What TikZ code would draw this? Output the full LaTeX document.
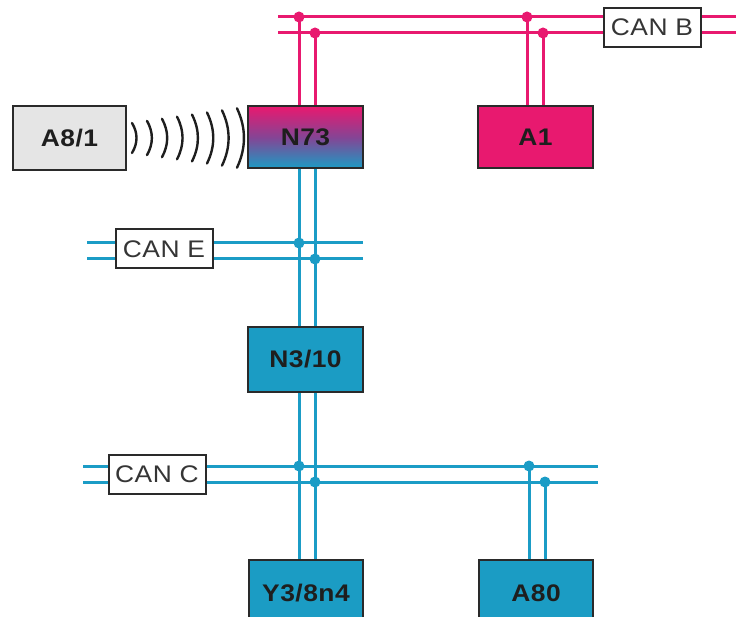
\documentclass[tikz,border=0pt]{standalone}
\usepackage{fontspec}
\setmainfont{Liberation Sans}
\newfontfamily\lblfont[FakeStretch=1.1,LetterSpace=2]{Liberation Sans}
\definecolor{canpink}{HTML}{E8196F}
\definecolor{canblue}{HTML}{1B9CC6}
\definecolor{boxblue}{HTML}{1B9CC4}
\definecolor{midpurple}{HTML}{844595}
\definecolor{edgegray}{HTML}{2A2A2A}
\definecolor{lightbox}{HTML}{E5E5E5}
\definecolor{txtdark}{HTML}{1E1E1E}
\tikzset{
  ecu/.style={draw=edgegray, line width=2pt, minimum width=115pt, minimum height=62pt,
    inner sep=0pt, outer sep=0pt, font=\fontsize{24}{28}\selectfont\lblfont\bfseries, text=txtdark},
  canlabel/.style={draw=edgegray, fill=white, line width=2pt, minimum width=97pt,
    minimum height=39pt, inner sep=0pt, font=\fontsize{24}{28}\selectfont\lblfont, text=txtdark!90},
  pinkbus/.style={draw=canpink, line width=3pt},
  bluebus/.style={draw=canblue, line width=3pt},
  pinkdot/.style={circle, fill=canpink, minimum size=11pt, inner sep=0pt},
  bluedot/.style={circle, fill=canblue, minimum size=11pt, inner sep=0pt},
  wave/.style={draw=txtdark, line width=2.4pt, line cap=round}
}
\begin{document}
\begin{tikzpicture}[x=1pt,y=-1pt]
\useasboundingbox (0,0) rectangle (736,617);
\clip (0,0) rectangle (736,617);
% bus end points and junctions
\coordinate (bBl1) at (278,17); \coordinate (bBr1) at (740,17);
\coordinate (bBl2) at (278,33); \coordinate (bBr2) at (740,33);
\coordinate (bEl1) at (87,243); \coordinate (bEr1) at (363,243);
\coordinate (bEl2) at (87,259); \coordinate (bEr2) at (363,259);
\coordinate (bCl1) at (83,466); \coordinate (bCr1) at (598,466);
\coordinate (bCl2) at (83,482); \coordinate (bCr2) at (598,482);
\coordinate (jB1) at (299,17); \coordinate (jB2) at (315,33);
\coordinate (jB3) at (527,17); \coordinate (jB4) at (543,33);
\coordinate (jE1) at (299,243); \coordinate (jE2) at (315,259);
\coordinate (jC1) at (299,466); \coordinate (jC2) at (315,482);
\coordinate (jC3) at (529,466); \coordinate (jC4) at (545,482);
% boxes (positions only, drawn later on top)
\node[ecu, top color=canpink, bottom color=boxblue, middle color=midpurple] (N73) at (305.5,137.5) {N73};
\node[ecu, fill=canpink] (A1) at (535.5,137.5) {A1};
\node[ecu, fill=lightbox, minimum width=113pt, minimum height=64pt] (A81) at (69.5,138) {A8/1};
\node[ecu, fill=boxblue, minimum height=65pt] (N310) at (305.5,359.5) {N3/10};
\node[ecu, fill=boxblue, minimum width=114pt, minimum height=66pt] (Y38) at (306,593) {Y3/8n4};
\node[ecu, fill=boxblue, minimum width=114pt, minimum height=66pt] (A80) at (536,593) {A80};
% buses
\draw[pinkbus] (bBl1) -- (bBr1);
\draw[pinkbus] (bBl2) -- (bBr2);
\draw[bluebus] (bEl1) -- (bEr1);
\draw[bluebus] (bEl2) -- (bEr2);
\draw[bluebus] (bCl1) -- (bCr1);
\draw[bluebus] (bCl2) -- (bCr2);
% stubs
\draw[pinkbus] (jB1) -- (jB1 |- N73.north);
\draw[pinkbus] (jB2) -- (jB2 |- N73.north);
\draw[pinkbus] (jB3) -- (jB3 |- A1.north);
\draw[pinkbus] (jB4) -- (jB4 |- A1.north);
\draw[bluebus] (jE1 |- N73.south) -- (jE1 |- N310.north);
\draw[bluebus] (jE2 |- N73.south) -- (jE2 |- N310.north);
\draw[bluebus] (jC1 |- N310.south) -- (jC1 |- Y38.north);
\draw[bluebus] (jC2 |- N310.south) -- (jC2 |- Y38.north);
\draw[bluebus] (jC3) -- (jC3 |- A80.north);
\draw[bluebus] (jC4) -- (jC4 |- A80.north);
% dots
\foreach \j in {jB1,jB2,jB3,jB4} \node[pinkdot] at (\j) {};
\foreach \j in {jE1,jE2,jC1,jC2,jC3,jC4} \node[bluedot] at (\j) {};
% bus labels
\node[canlabel] (canB) at (652,27.5) {CAN B};
\node[canlabel] (canE) at (164,249) {CAN E};
\node[canlabel] (canC) at (157,474) {CAN C};
% redraw boxes on top
\node[ecu, top color=canpink, bottom color=boxblue, middle color=midpurple] at (N73) {N73};
\node[ecu, fill=canpink] at (A1) {A1};
\node[ecu, fill=lightbox, minimum width=113pt, minimum height=64pt] at (A81) {A8/1};
\node[ecu, fill=boxblue, minimum height=65pt] at (N310) {N3/10};
\node[ecu, fill=boxblue, minimum width=114pt, minimum height=66pt] at (Y38) {Y3/8n4};
\node[ecu, fill=boxblue, minimum width=114pt, minimum height=66pt] at (A80) {A80};
% radio waves
\foreach \i in {0,...,7} {
  \pgfmathsetmacro\xx{132+15*\i}
  \pgfmathsetmacro\hh{15+2.1*\i}
  \pgfmathsetmacro\cc{(4.5+0.35*\i)/0.75}
  \draw[wave] (\xx,138-\hh) .. controls (\xx+\cc,138-\hh/3) and (\xx+\cc,138+\hh/3) .. (\xx,138+\hh);
}
\end{tikzpicture}
\end{document}
